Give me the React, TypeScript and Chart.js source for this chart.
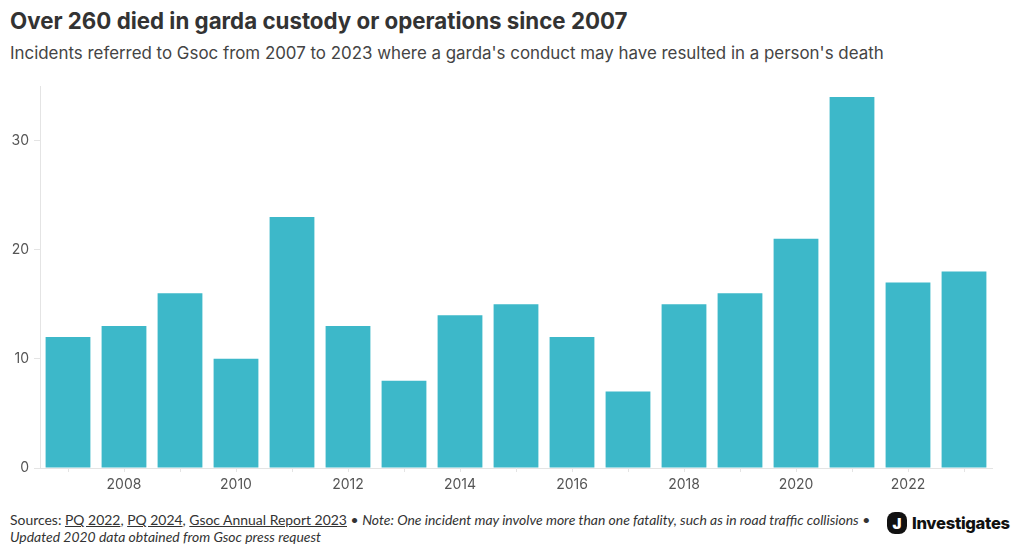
import React, { useEffect, useRef } from "react";
import { Chart, registerables } from "chart.js";

Chart.register(...registerables);

const years = ["2007","2008","2009","2010","2011","2012","2013","2014","2015","2016","2017","2018","2019","2020","2021","2022","2023"];
const incidents = [12, 13, 16, 10, 23, 13, 8, 14, 15, 12, 7, 15, 16, 21, 34, 17, 18];
const yTicks = [0, 10, 20, 30];

const FONT = "Inter, 'Noto Sans', sans-serif";
const BAR = "#3db8c9";

export default function App() {
  const ref = useRef<HTMLCanvasElement | null>(null);

  useEffect(() => {
    document.body.style.margin = "0";
    const chart = new Chart(ref.current!, {
      type: "bar",
      data: {
        labels: years,
        datasets: [
          {
            data: incidents,
            backgroundColor: BAR,
            borderWidth: 0,
            barPercentage: 0.8,
            categoryPercentage: 1,
          },
        ],
      },
      options: {
        animation: false,
        responsive: false,
        maintainAspectRatio: false,
        layout: { padding: { top: 16, right: 28, left: 0, bottom: 0 } },
        plugins: { legend: { display: false }, tooltip: { enabled: false } },
        scales: {
          x: {
            grid: { drawOnChartArea: false, drawTicks: true, tickLength: 4, color: "#e4e4e4", offset: false },
            border: { display: true, color: "#e4e4e4" },
            ticks: {
              autoSkip: false,
              maxRotation: 0,
              color: "#555",
              padding: 4,
              font: { family: FONT, size: 14 },
              callback: (v: any, i: number) => (parseInt(years[i]) % 2 === 0 ? years[i] : ""),
            },
            afterFit: (s: any) => { s.height = 32; },
          },
          y: {
            min: 0,
            max: 35,
            afterBuildTicks: (s: any) => { s.ticks = yTicks.map((v) => ({ value: v })); },
            grid: { drawOnChartArea: false, drawTicks: true, tickLength: 6, color: "#e4e4e4" },
            border: { display: true, color: "#e4e4e4" },
            ticks: { color: "#555", padding: 5, font: { family: FONT, size: 14 } },
            afterFit: (s: any) => { s.width = 40; },
          },
        },
      },
    });
    return () => chart.destroy();
  }, []);

  return (
    <div style={{ position: "relative", width: 1020, height: 556, background: "#fff", overflow: "hidden", fontFamily: FONT }}>
      <div style={{ position: "absolute", left: 10, top: 7, fontSize: 22.3, fontWeight: 700, color: "#333", whiteSpace: "nowrap" }}>
        Over 260 died in garda custody or operations since 2007
      </div>
      <div style={{ position: "absolute", left: 10, top: 43, fontSize: 16.9, color: "#444", whiteSpace: "nowrap" }}>
        Incidents referred to Gsoc from 2007 to 2023 where a garda's conduct may have resulted in a person's death
      </div>
      <canvas ref={ref} width={1020} height={430} style={{ position: "absolute", left: 0, top: 70, width: 1020, height: 430 }} />
      <div style={{ position: "absolute", left: 10, top: 511, fontFamily: "Lato, sans-serif", fontSize: 13.95, lineHeight: "17px", color: "#333", whiteSpace: "nowrap" }}>
        Sources: <span style={{ textDecoration: "underline" }}>PQ 2022</span>, <span style={{ textDecoration: "underline" }}>PQ 2024</span>,{" "}
        <span style={{ textDecoration: "underline" }}>Gsoc Annual Report 2023</span> •{" "}
        <i>Note: One incident may involve more than one fatality, such as in road traffic collisions</i> •<br />
        <i>Updated 2020 data obtained from Gsoc press request</i>
      </div>
      <div style={{ position: "absolute", left: 887, top: 512, display: "flex", alignItems: "center" }}>
        <div style={{ width: 20, height: 22, borderRadius: 8, background: "#111", color: "#fff", fontWeight: 900, fontSize: 15, display: "flex", alignItems: "center", justifyContent: "center", lineHeight: 1 }}>J</div>
        <div style={{ marginLeft: 5, fontSize: 16.6, fontWeight: 800, color: "#111", letterSpacing: -0.3 }}>Investigates</div>
      </div>
    </div>
  );
}
